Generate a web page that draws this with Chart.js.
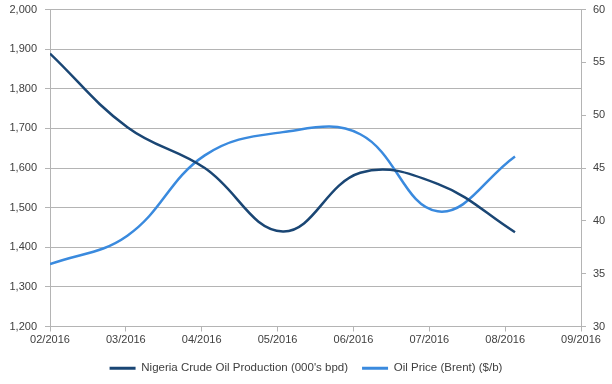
<!DOCTYPE html>
<html>
<head>
<meta charset="utf-8">
<script src="https://cdn.jsdelivr.net/npm/chart.js@4.4.0/dist/chart.umd.min.js"></script>
<style>
  html, body { margin: 0; padding: 0; background: #fff; overflow: hidden; }
  #wrap { width: 612px; height: 389px; margin-top: -5px; }
</style>
</head>
<body>
<div id="wrap"><canvas id="oilChart"></canvas></div>
<script>
// Data
const monthLabels = ['02/2016', '03/2016', '04/2016', '05/2016', '06/2016', '07/2016', '08/2016', '09/2016'];
// month offset from 02/2016 for each observation
const obsMonth = [0, 1.02, 2.04, 3.07, 4.09, 5.11, 6.13];
const production = [1889, 1703, 1600, 1440, 1588, 1560, 1438];
const brentPrice = [35.9, 38.6, 46.2, 48.4, 48.2, 40.9, 46.1];

const gridGray = '#b4b4b4';
const textGray = '#404040';

function toPoints(xs, ys) {
    return xs.map((x, i) => ({ x: x, y: ys[i] }));
}

Chart.defaults.font.family = '"Liberation Sans", Arial, sans-serif';
Chart.defaults.font.size = 11;
Chart.defaults.color = textGray;

new Chart(document.getElementById('oilChart').getContext('2d'), {
    type: 'line',
    data: {
        datasets: [{
            label: "Nigeria Crude Oil Production (000's bpd)",
            data: toPoints(obsMonth, production),
            borderColor: '#1a4674',
            backgroundColor: '#1a4674',
            borderWidth: 2.5,
            pointRadius: 0,
            tension: 0.4,
            yAxisID: 'y'
        }, {
            label: 'Oil Price (Brent) ($/b)',
            data: toPoints(obsMonth, brentPrice),
            borderColor: '#3a8ade',
            backgroundColor: '#3a8ade',
            borderWidth: 2.5,
            pointRadius: 0,
            tension: 0.4,
            yAxisID: 'y1'
        }]
    },
    options: {
        responsive: true,
        maintainAspectRatio: false,
        animation: false,
        layout: { padding: { top: 4, left: 0, right: 0, bottom: 0 } },
        plugins: {
            tooltip: { enabled: false },
            legend: {
                position: 'bottom',
                labels: {
                    boxWidth: 26,
                    boxHeight: 3,
                    padding: 14,
                    color: textGray,
                    font: { size: 11.5 },
                    generateLabels: chart => {
                        const items = Chart.defaults.plugins.legend.labels.generateLabels(chart);
                        items.forEach(it => { it.lineWidth = 0; });
                        return items;
                    }
                }
            }
        },
        scales: {
            x: {
                type: 'linear',
                min: 0,
                max: monthLabels.length - 1,
                grid: { drawOnChartArea: false, color: gridGray, tickLength: 5 },
                border: { color: gridGray },
                ticks: {
                    stepSize: 1,
                    padding: 2,
                    maxRotation: 0,
                    callback: v => monthLabels[v]
                },
                afterFit: s => { s.height = 22; }
            },
            y: {
                position: 'left',
                min: 1200,
                max: 2000,
                grid: { color: gridGray, tickLength: 5 },
                border: { color: gridGray },
                ticks: {
                    stepSize: 100,
                    padding: 8,
                    callback: v => v.toLocaleString('en-US')
                },
                afterFit: s => { s.width = 50; }
            },
            y1: {
                position: 'right',
                min: 30,
                max: 60,
                grid: { drawOnChartArea: false, color: gridGray, tickLength: 5 },
                border: { color: gridGray },
                ticks: { stepSize: 5, padding: 7 },
                afterFit: s => { s.width = 31; }
            }
        }
    }
});
</script>
</body>
</html>
